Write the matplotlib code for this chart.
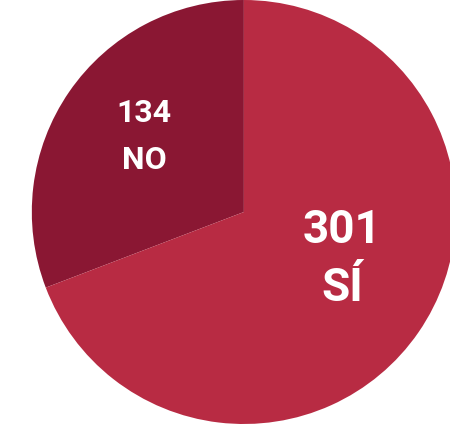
import matplotlib.pyplot as plt
from matplotlib import font_manager

labels = ["NO", "SÍ"]
values = [134, 301]
colors = ["#8a1733", "#b82b43"]

fams = [f.name for f in font_manager.fontManager.ttflist]
font = "Liberation Sans Narrow" if "Liberation Sans Narrow" in fams else "Roboto"

fig = plt.figure(figsize=(4.5, 4.24), dpi=100)
ax = fig.add_axes([0, 0, 1, 1])

ax.pie(values, colors=colors, startangle=90, counterclock=True, radius=1,
       wedgeprops=dict(linewidth=0))

# number + answer, placed by hand like the original graphic
ax.text(-0.47, 0.465, str(values[0]), ha="center", va="center", color="white",
        fontsize=23, fontweight="bold", family=font)
ax.text(-0.47, 0.245, labels[0], ha="center", va="center", color="white",
        fontsize=23, fontweight="bold", family=font)
ax.text(0.465, -0.085, str(values[1]), ha="center", va="center", color="white",
        fontsize=33, fontweight="bold", family=font)
ax.text(0.465, -0.36, labels[1], ha="center", va="center", color="white",
        fontsize=33, fontweight="bold", family=font)

ax.set_xlim(-1.15, 0.972)
ax.set_ylim(-1, 1)
ax.set_aspect("auto")
ax.axis("off")

fig.savefig("out.png", dpi=100, facecolor="white")
